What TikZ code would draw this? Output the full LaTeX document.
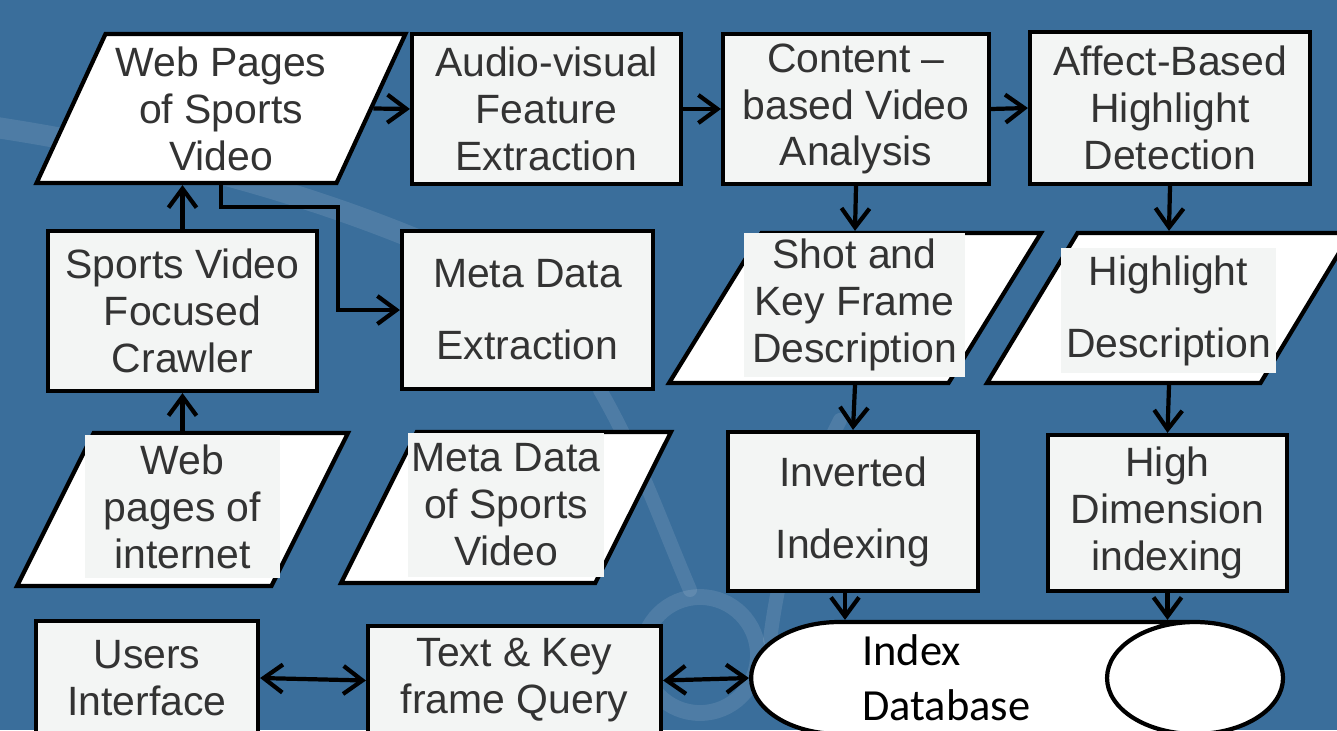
\documentclass[tikz,border=0pt]{standalone}
\usepackage{fontspec}
\setmainfont{Liberation Sans}
\newfontfamily\dbfont{Carlito}
\usepackage{tikz}
\usetikzlibrary{arrows.meta}
\usetikzlibrary{shapes.geometric}
\usetikzlibrary{positioning, calc}
\definecolor{bgblue}{RGB}{58,110,155}
\definecolor{boxgray}{RGB}{243,245,244}
\definecolor{txtgray}{RGB}{51,51,51}

\tikzset{
  blk/.style={draw=black, line width=2.4pt, fill=boxgray, text=txtgray,
    align=center, inner sep=0pt, font=\fontsize{23.3}{26.7}\selectfont},
  para/.style 2 args={blk, fill=white, trapezium, trapezium stretches=true,
    trapezium left angle=#1, trapezium right angle=#2, inner sep=2pt},
  txtbg/.style={fill=boxgray, text=txtgray, align=center, inner sep=0pt,
    font=\fontsize{23.3}{26.7}\selectfont},
  arr/.style={line width=2.4pt, -{Straight Barb[length=0.38cm, width=0.56cm]}},
  dblarr/.style={line width=2.4pt, {Straight Barb[length=0.38cm, width=0.56cm]}-{Straight Barb[length=0.38cm, width=0.56cm]}},
  deco/.style={white, opacity=0.1, line cap=round}
}

\begin{document}
\begin{tikzpicture}[x=0.02cm, y=-0.02cm]
\useasboundingbox (0,0) rectangle (1337,730);
\clip (0,0) rectangle (1337,730);
\fill[bgblue] (0,0) rectangle (1337,730);

% background streaks
\draw[deco, line width=12pt] (-20,125) .. controls (150,150) and (300,190) .. (430,245);
\draw[deco, line width=9pt] (700,655) circle (58);
\draw[deco, line width=8pt] (600,390) .. controls (640,460) and (660,520) .. (690,590);
\draw[deco, line width=8pt] (840,420) .. controls (800,500) and (780,560) .. (770,640);

% top row
\node[para={63.6}{116.4}, minimum width=7.40cm, minimum height=2.98cm] (webpg) at (221,108.5) {Web Pages\\of Sports\\Video};
\node[blk, minimum width=5.38cm, minimum height=3.00cm] (audio) at (546.5,109) {Audio-visual\\Feature\\Extraction};
\node[blk, minimum width=5.32cm, minimum height=3.00cm] (content) at (856,109) {Content --\\based Video\\Analysis};
\node[blk, minimum width=5.60cm, minimum height=3.04cm] (affect) at (1170,108) {Affect-Based\\Highlight\\Detection};

% second row
\node[blk, minimum width=5.38cm, minimum height=3.20cm] (crawler) at (182.5,311) {Sports Video\\Focused\\Crawler};
\node[blk, minimum width=5.02cm, minimum height=3.16cm] (metaext) at (527.5,310) {Meta Data\\[0.5cm]Extraction};
\node[para={63.7}{116.3}, minimum width=7.44cm, minimum height=3.00cm] (shot) at (855,308) {};
\node[txtbg, minimum width=4.42cm, minimum height=2.88cm] at (854.5,305) {Shot and\\Key Frame\\Description};
\node[para={63.7}{116.3}, minimum width=7.28cm, minimum height=3.00cm] (hldesc) at (1169,308) {};
\node[txtbg, minimum width=4.30cm, minimum height=2.50cm] at (1168.5,310.5) {Highlight\\[0.5cm]Description};

% third row
\node[para={66.7}{113.3}, minimum width=6.62cm, minimum height=3.06cm] (webint) at (182.5,509.5) {};
\node[txtbg, minimum width=3.90cm, minimum height=2.86cm] at (182.5,506.5) {Web\\pages of\\internet};
\node[para={67}{113}, minimum width=6.60cm, minimum height=3.02cm] (metasv) at (506,507.5) {};
\node[txtbg, minimum width=3.92cm, minimum height=2.88cm] at (506,505) {Meta Data\\of Sports\\Video};
\node[blk, minimum width=5.00cm, minimum height=3.18cm] (inverted) at (853,511.5) {Inverted\\[0.5cm]Indexing};
\node[blk, minimum width=4.78cm, minimum height=3.12cm] (highdim) at (1167.5,513) {High\\Dimension\\indexing};

% bottom row
\node[blk, minimum width=4.44cm, minimum height=2.28cm] (users) at (147,678) {Users\\Interface};
\node[blk, minimum width=5.86cm, minimum height=2.18cm] (query) at (514.5,680.5) {Text \& Key\\frame Query};
\node[cylinder, draw=black, line width=2.4pt, fill=white, minimum width=2.24cm, minimum height=10.64cm,
  aspect=1.6, inner xsep=2pt, inner ysep=1.1cm, anchor=west] (db) at (749,678) {};
\node[anchor=west, align=left, inner sep=0pt, font=\dbfont\fontsize{25.3}{31.3}\selectfont]
  (dbtxt) at ([xshift=2.26cm]db.west) {Index\\Database};

% connectors
\draw[arr] (webpg.east) -- (audio.west);
\draw[arr] (audio.east) -- (content.west);
\draw[arr] (content.east) -- (affect.west);
\draw[arr] (crawler.north) -- (crawler.north |- webpg.south);
\draw[arr] (crawler.south |- webint.north) -- (crawler.south);
\draw[arr] (webpg.south) -- ++(0,22) -| ([xshift=-1.24cm]metaext.west) -- (metaext.west);
\draw[arr] (content.south) -- (shot.north);
\draw[arr] (affect.south) -- (hldesc.north);
\draw[arr] (shot.south) -- (inverted.north);
\draw[arr] (hldesc.south) -- (highdim.north);
\draw[arr] ([xshift=-0.16cm]inverted.south) -- ([xshift=-0.16cm]inverted.south |- db.north);
\draw[arr] (highdim.south) -- (highdim.south |- db.north);
\draw[dblarr] (users.east) -- (query.west);
\draw[dblarr] (query.east) -- (db.west);

\end{tikzpicture}
\end{document}
